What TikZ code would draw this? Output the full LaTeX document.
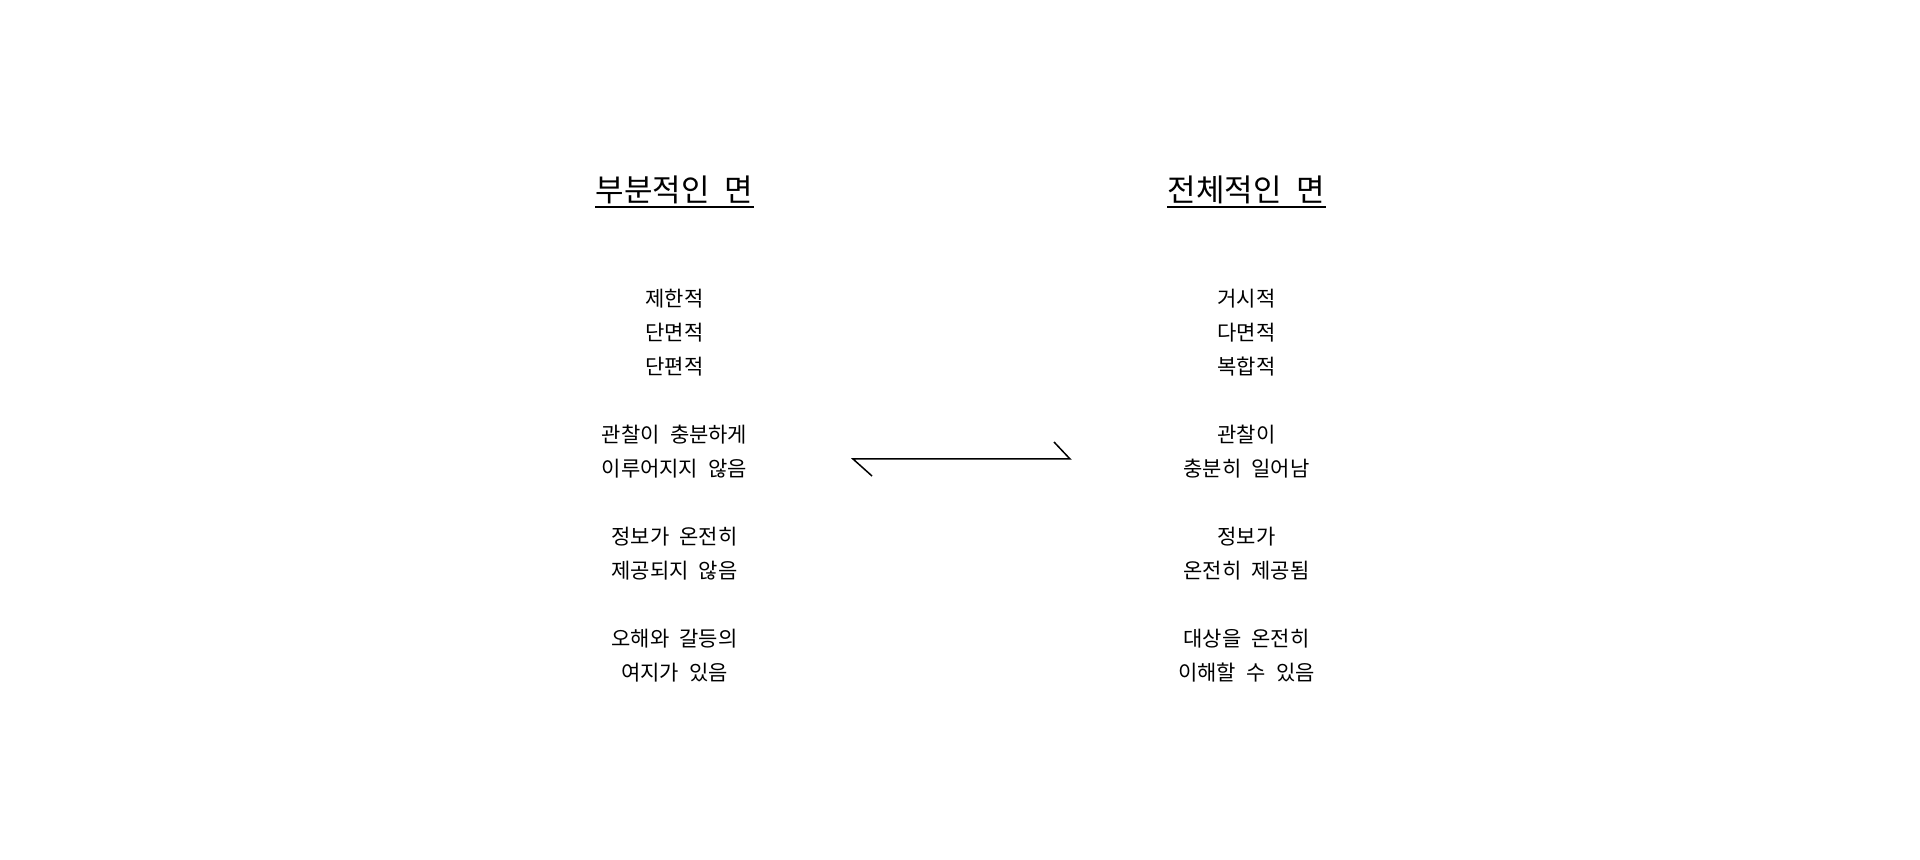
\documentclass[tikz,border=0pt]{standalone}
\usepackage{fontspec}
\setmainfont[WordSpace=2.2]{Noto Sans CJK KR}
\begin{document}
\begin{tikzpicture}[x=0.5pt,y=-0.5pt,
  title/.style={inner sep=0pt, font=\fontsize{15.5pt}{18pt}\selectfont, anchor=base},
  body/.style={inner sep=0pt, align=center, font=\fontsize{10.5pt}{17pt}\selectfont, anchor=center},
  uline/.style={line width=1pt},
  conn/.style={line width=0.75pt, line join=miter}]
\useasboundingbox (0,0) rectangle (1920,860);
% titles
\node[title] (tl) at (674.5,201.5) {부분적인 면};
\node[title] (tr) at (1246.5,201.5) {전체적인 면};
\draw[uline] ([yshift=-3pt]tl.base west) -- ([yshift=-3pt]tl.base east);
\draw[uline] ([yshift=-3pt]tr.base west) -- ([yshift=-3pt]tr.base east);
% left column
\node[body] (l1) at (674.5,333) {제한적\\단면적\\단편적};
\node[body] (l2) at (674.5,452) {관찰이 충분하게\\이루어지지 않음};
\node[body] (l3) at (674.5,554) {정보가 온전히\\제공되지 않음};
\node[body] (l4) at (674.5,656) {오해와 갈등의\\여지가 있음};
% right column
\node[body] (r1) at (1246.5,333) {거시적\\다면적\\복합적};
\node[body] (r2) at (1246.5,452) {관찰이\\충분히 일어남};
\node[body] (r3) at (1246.5,554) {정보가\\온전히 제공됨};
\node[body] (r4) at (1246.5,656) {대상을 온전히\\이해할 수 있음};
% double harpoon
\coordinate (aL) at (853,459);
\coordinate (aR) at (1070,459);
\coordinate (hL) at (872,476);
\coordinate (hR) at (1054,442);
\draw[conn] (hL) -- (aL) -- (aR) -- (hR);
\end{tikzpicture}
\end{document}
